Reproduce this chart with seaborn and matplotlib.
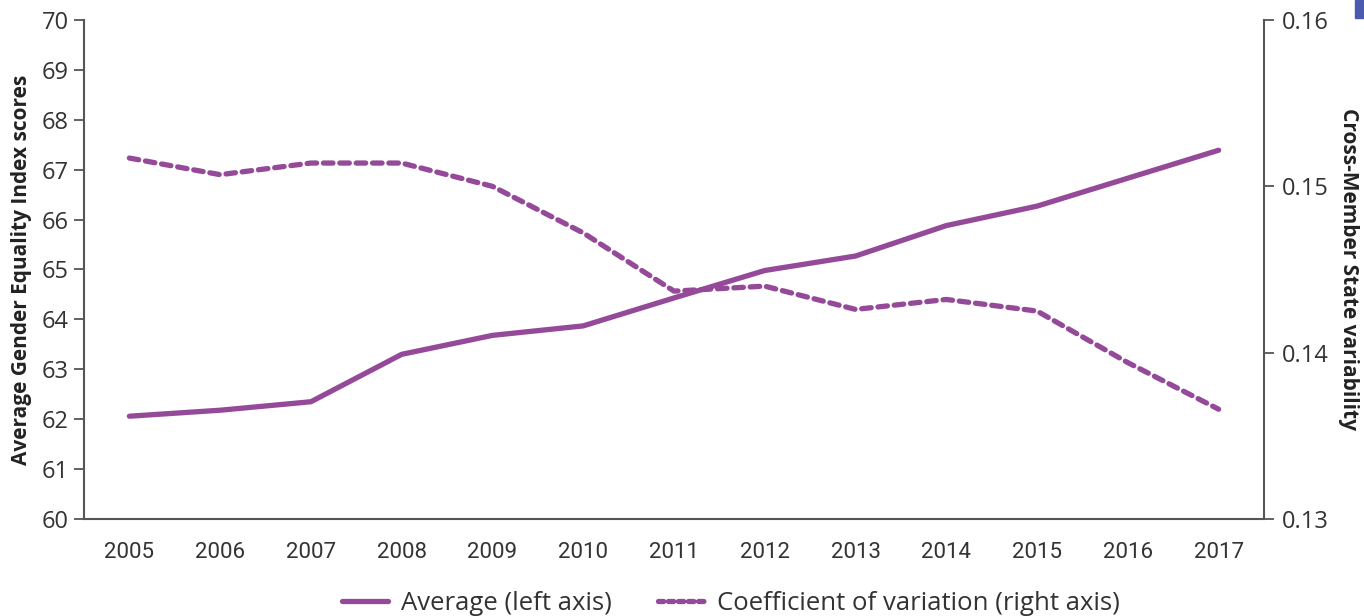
import matplotlib
matplotlib.use("Agg")
import matplotlib.pyplot as plt
import seaborn as sns
import pandas as pd
import numpy as np
from matplotlib.lines import Line2D
from matplotlib.patches import Rectangle

years = ["2005", "2006", "2007", "2008", "2009", "2010", "2011",
         "2012", "2013", "2014", "2015", "2016", "2017"]
average = [62.06, 62.18, 62.35, 63.30, 63.68, 63.87, 64.43,
           64.98, 65.27, 65.88, 66.27, 66.83, 67.39]
coef_var = [0.1517, 0.1507, 0.1514, 0.1514, 0.1500, 0.1472, 0.1437,
            0.1440, 0.1426, 0.1432, 0.1425, 0.1394, 0.1366]
left_ticks = [60, 61, 62, 63, 64, 65, 66, 67, 68, 69, 70]
right_ticks = [0.13, 0.14, 0.15, 0.16]
right_labels = ["0.13", "0.14", "0.15", "0.16"]

df = pd.DataFrame({"year": years, "average": average, "cv": coef_var})
df["pos"] = np.arange(len(years))

sns.set_style("white")
plt.rcParams['font.family'] = ['Open Sans', 'DejaVu Sans']

purple = "#954a99"
spine_c = "#555555"
text_c = "#333333"

fig = plt.figure(figsize=(13.64, 6.16), dpi=100)
ax = fig.add_axes([84/1364, 1-519/616, (1264-84)/1364, (519-20)/616])
ax2 = ax.twinx()

sns.lineplot(data=df, x="pos", y="average", ax=ax, color=purple, lw=3.8,
             solid_capstyle="round", solid_joinstyle="round", legend=False)
sns.lineplot(data=df, x="pos", y="cv", ax=ax2, color=purple, lw=3.8,
             dashes=False, legend=False)
ln2 = ax2.lines[0]
ln2.set_dashes((1.8, 1.3))
ln2.set_dash_capstyle("round")

ax.set_xlim(-0.5, len(years) - 0.5)
ax.set_ylim(60, 70)
ax2.set_ylim(0.13, 0.16)

ax.set_xticks(df["pos"])
ax.set_xticklabels(years, family=['Roboto', 'DejaVu Sans'],
                   fontsize=16, color=text_c)
ax.set_xticks(np.arange(-0.5, len(years)), minor=True)
ax.tick_params(axis="x", which="major", length=0, pad=16.5)
ax.tick_params(axis="x", which="minor", length=7, width=1.3, color=spine_c, direction="out")

ax.set_yticks(left_ticks)
ax.set_yticklabels([str(t) for t in left_ticks])
ax.tick_params(axis="y", length=7, width=1.3, color=spine_c, labelsize=17,
               labelcolor=text_c, pad=4, direction="out", left=True)
ax2.set_yticks(right_ticks)
ax2.set_yticklabels(right_labels)
ax2.tick_params(axis="y", length=7, width=1.3, color=spine_c, labelsize=17,
                labelcolor=text_c, pad=6, direction="out", right=True)

for a in (ax, ax2):
    a.spines["top"].set_visible(False)
    for s in ("left", "right", "bottom"):
        a.spines[s].set_color(spine_c)
        a.spines[s].set_linewidth(1.5)
    a.grid(False)
ax.spines["right"].set_visible(False)
ax2.spines["left"].set_visible(False)
ax2.spines["bottom"].set_visible(False)

ax.set_xlabel("")
ax.set_ylabel("Average Gender Equality Index scores", fontsize=15, fontweight="bold",
              color="#222222", labelpad=7)
ax2.set_ylabel("Cross-Member State variability", fontsize=15, fontweight="bold",
               color="#222222", rotation=-90, labelpad=22)

handles = [Line2D([0], [0], color=purple, lw=3.8),
           Line2D([0], [0], color=purple, lw=3.8, dashes=(1.0, 0.9), dash_capstyle="round")]
fig.legend(handles, ["Average (left axis)", "Coefficient of variation (right axis)"],
           loc="center", bbox_to_anchor=(731/1364, 1-603/616), ncol=2, frameon=False,
           prop={'family': ['Open Sans', 'DejaVu Sans'], 'size': 18.5},
           labelcolor=text_c, handlelength=1.8, columnspacing=1.8, handletextpad=0.5)

fig.patches.append(Rectangle((1355/1364, 1-18/616), 9/1364, 18/616,
                             transform=fig.transFigure, color="#4b5aae", zorder=0))

fig.savefig("out.png", dpi=100)
